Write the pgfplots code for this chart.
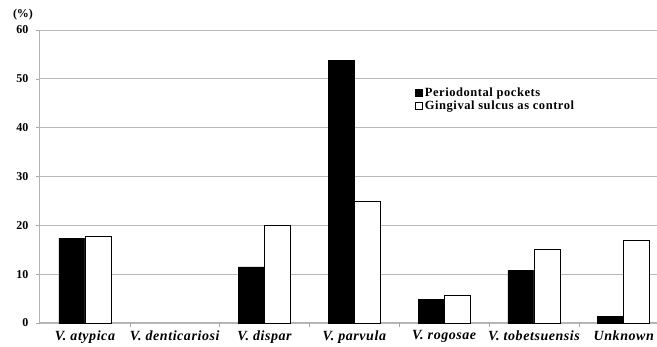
\documentclass[border=0pt]{standalone}
\usepackage{pgfplots}
\pgfplotsset{compat=1.18}
\usepackage{fontspec}
\setmainfont{Liberation Serif}
\begin{document}
\begin{tikzpicture}
\begin{axis}[
  scale only axis,
  width=617pt, height=293pt,
  xmin=-0.5, xmax=6.37,
  ymin=0, ymax=60,
  ytick={0,10,...,60},
  xtick={0,1,2,3,4,5,6},
  xticklabels={V. atypica, V. denticariosi, V. dispar, V. parvula, V. rogosae, V. tobetsuensis, Unknown},
  minor xtick={0.5,1.5,2.5,3.5,4.5,5.5},
  xtick style={draw=none},
  minor x tick style={draw=gray!70, line width=0.6pt},
  ytick style={draw=gray!70, line width=0.6pt},
  major tick length=4pt, minor tick length=4pt,
  tick align=outside,
  axis x line*=bottom, axis y line*=left,
  axis line style={draw=gray!60, line width=1pt, -},
  ymajorgrids,
  major grid style={draw=gray!55, line width=0.8pt},
  /pgf/number format/assume math mode=true,
  yticklabel style={font=\fontsize{12}{14}\selectfont\bfseries, xshift=-4pt},
  xticklabel style={font=\fontsize{14}{16}\selectfont\bfseries\itshape\addfontfeature{LetterSpace=4}, yshift=0pt},
  ybar=0pt, bar width=26pt,
  legend style={draw=none, fill=none, at={(0.608,0.81)}, anchor=north west,
    font=\fontsize{12.5}{14}\selectfont\bfseries\addfontfeature{LetterSpace=4.5}, row sep=-1pt, inner sep=0pt,
    /tikz/every even column/.append style={column sep=0pt}},
  legend cell align=left,
  legend image code/.code={\draw[#1, line width=0.5pt] (0pt,-3.5pt) rectangle (7pt,3.5pt);},
  clip=false,
]
\addplot[fill=black, draw=black, line width=0.6pt] coordinates {(0,17.35) (2,11.5) (3,53.8) (4,4.85) (5,10.7) (6,1.4)};
\addplot[fill=white, draw=black, line width=0.6pt] coordinates {(0,17.7) (2,20) (3,25) (4,5.6) (5,15) (6,17)};
\legend{Periodontal pockets, Gingival sulcus as control}
\node[font=\fontsize{12}{14}\selectfont\bfseries] at ([shift={(-17pt,15pt)}]rel axis cs:0,1) {(\%)};
\coordinate (bl) at (rel axis cs:0,0);
\coordinate (tr) at (rel axis cs:1,1);
\end{axis}
\pgfresetboundingbox
\path[use as bounding box] ([shift={(-40pt,-24pt)}]bl) rectangle ([shift={(0pt,30pt)}]tr);
\end{tikzpicture}
\end{document}
